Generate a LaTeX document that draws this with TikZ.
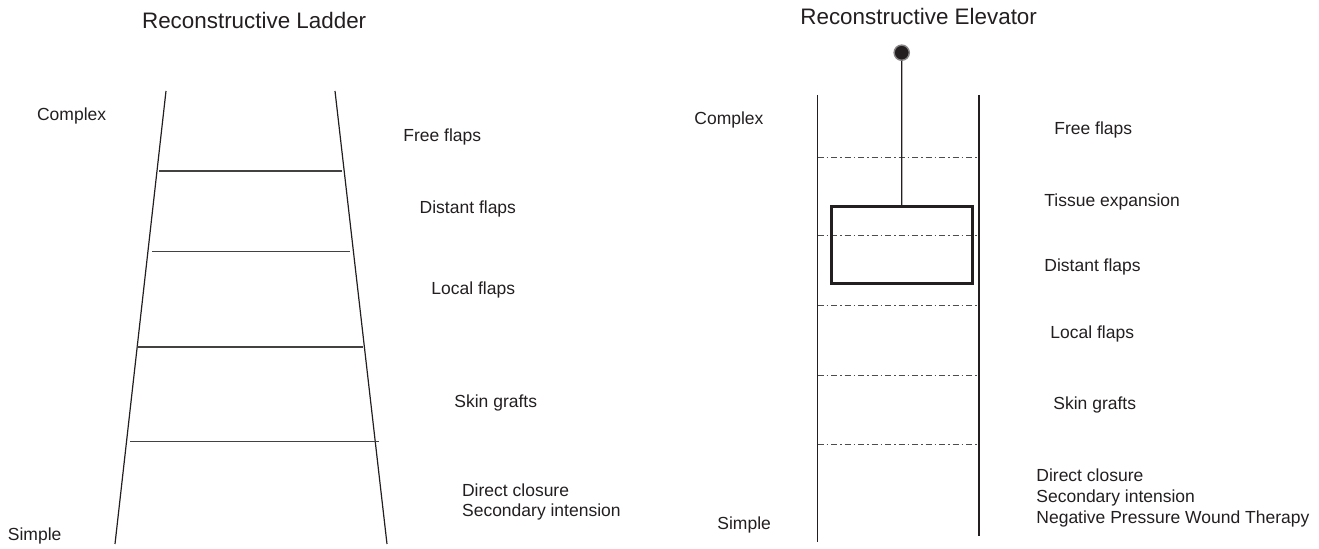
\documentclass[tikz,border=0pt]{standalone}
\usepackage{fontspec}
\setmainfont{Liberation Sans}
\definecolor{ink}{HTML}{231F20}
\tikzset{
  lbl/.style={anchor=base west, inner sep=0pt, text=ink, font=\fontsize{8.75pt}{10pt}\selectfont},
  ttl/.style={anchor=base west, inner sep=0pt, text=ink, font=\fontsize{11.2pt}{13pt}\selectfont},
  rail/.style={draw=ink, line width=0.6pt},
  rung/.style={draw=ink!85, line width=0.6pt},
  dashdot/.style={draw=ink!80, line width=0.45pt, dash pattern=on 3pt off 1.5pt on 0.75pt off 1.5pt},
  cage/.style={draw=ink, line width=1.5pt},
}
\begin{document}
\begin{tikzpicture}[x=0.5pt,y=-0.5pt]
\useasboundingbox (0,0) rectangle (1319,549);
% ---------- Ladder ----------
\node[ttl] (tL) at (141.7,29) {Reconstructive Ladder};
\coordinate (lt) at (166,91);
\coordinate (lb) at (115,544);
\coordinate (rt) at (335,91);
\coordinate (rb) at (387,544);
\draw[rail] (lt) -- (lb);
\draw[rail] (rt) -- (rb);
\coordinate (r1a) at (159.3,171); \coordinate (r1b) at (342.3,171);
\coordinate (r2a) at (152,251.5); \coordinate (r2b) at (349.7,251.5);
\coordinate (r3a) at (137,347); \coordinate (r3b) at (363,347);
\coordinate (r4a) at (130,441.5); \coordinate (r4b) at (379,441.5);
\draw[rung] (r1a) -- (r1b);
\draw[rung] (r2a) -- (r2b);
\draw[rung] (r3a) -- (r3b);
\draw[rung] (r4a) -- (r4b);
\node[lbl] (lcx) at (36.7,121) {Complex};
\node[lbl] (lsp) at (7.5,541) {Simple};
\node[lbl] (lff) at (403,141.7) {Free flaps};
\node[lbl] (ldf) at (419.3,214) {Distant flaps};
\node[lbl] (llf) at (431,295) {Local flaps};
\node[lbl] (lsg) at (454,408) {Skin grafts};
\node[lbl] (ldc) at (461.7,496.5) {Direct closure};
\node[lbl] (lsi) at (461.7,517) {Secondary intension};
% ---------- Elevator ----------
\node[ttl] (tE) at (800,25) {Reconstructive Elevator};
\coordinate (elt) at (817.5,95);
\coordinate (elb) at (817.5,542);
\coordinate (ert) at (979,95);
\coordinate (erb) at (979,536);
\draw[rail] (elt) -- (elb);
\draw[rail] (ert) -- (erb);
\foreach \yy/\nm in {157.7/d1,235/d2,305/d3,375/d4,444.3/d5}{
  \coordinate (\nm a) at (817.5,\yy);
  \coordinate (\nm b) at (979,\yy);
  \draw[dashdot] (\nm a) -- (\nm b);
}
\node[cage, rectangle, minimum width=70.6pt, minimum height=38.6pt, inner sep=0pt] (box) at (901.65,245.35) {};
\node[circle, fill=ink, draw=ink!55, line width=0.7pt, minimum size=7.6pt, inner sep=0pt] (ball) at (901.7,52.7) {};
\draw[draw=ink, line width=0.6pt] (ball.south) -- (box.north);
\node[lbl] (ecx) at (694,125) {Complex};
\node[lbl] (esp) at (717,530) {Simple};
\node[lbl] (eff) at (1054,135) {Free flaps};
\node[lbl] (ete) at (1044,206.7) {Tissue expansion};
\node[lbl] (edf) at (1044,271.7) {Distant flaps};
\node[lbl] (elf) at (1050,339) {Local flaps};
\node[lbl] (esg) at (1053,410) {Skin grafts};
\node[lbl] (edc) at (1036,482) {Direct closure};
\node[lbl] (esi) at (1036,503) {Secondary intension};
\node[lbl] (enp) at (1036,523.5) {Negative Pressure Wound Therapy};
\end{tikzpicture}
\end{document}
